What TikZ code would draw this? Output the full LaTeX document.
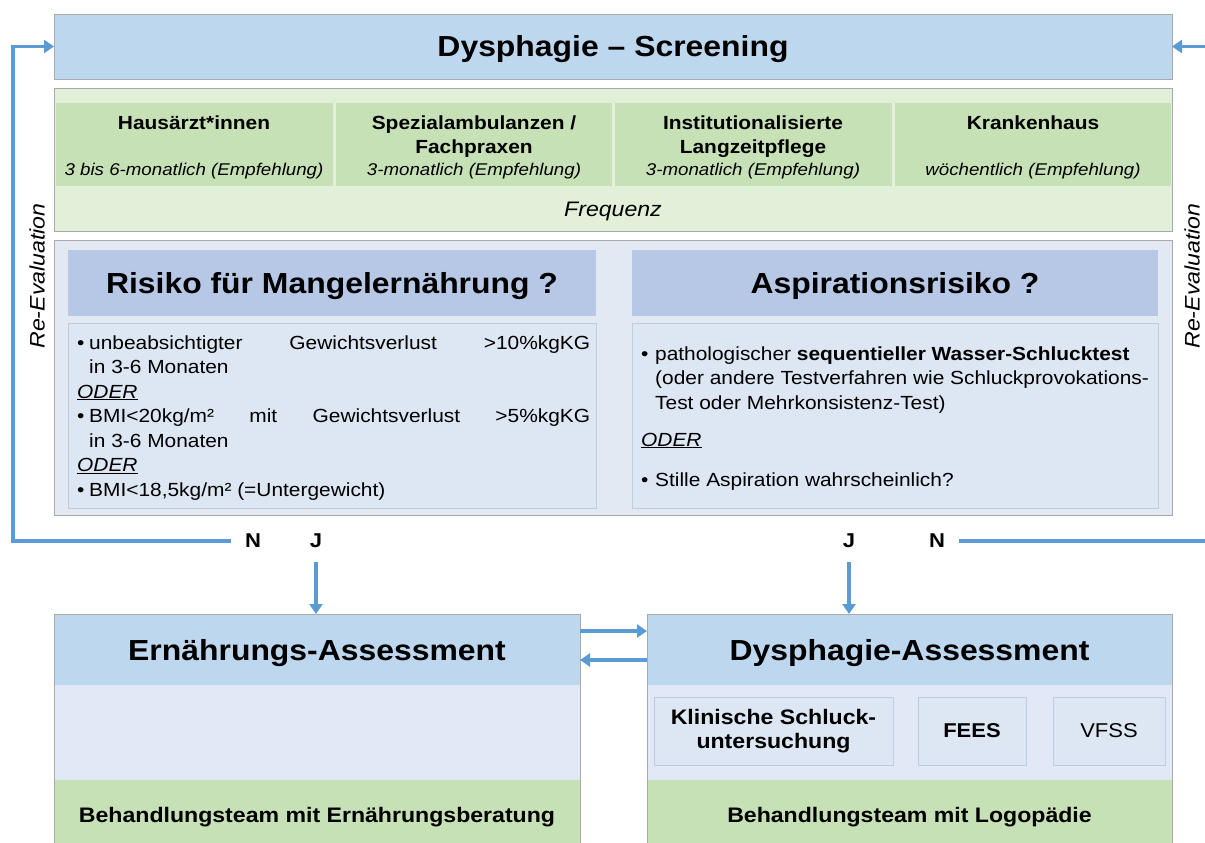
\documentclass[tikz,border=0pt]{standalone}
\usepackage{fontspec}
\setmainfont{Liberation Sans}[FakeStretch=1.1]
\usetikzlibrary{arrows.meta,positioning}

% Farben
\definecolor{blauTitel}{RGB}{189,215,238}
\definecolor{blauKopf}{RGB}{182,200,230}
\definecolor{blauInhalt}{RGB}{221,230,243}
\definecolor{blauMitte}{RGB}{224,233,245}
\definecolor{panelGrau}{RGB}{226,233,242}
\definecolor{gruenHell}{RGB}{226,240,217}
\definecolor{gruenZelle}{RGB}{199,225,182}
\definecolor{rahmenGrau}{RGB}{170,170,170}
\definecolor{rahmenBlau}{RGB}{190,204,224}
\definecolor{pfeilBlau}{RGB}{91,155,213}

% Schriften
\newcommand{\schriftTitel}{\fontsize{29}{34}\selectfont\bfseries}
\newcommand{\schriftKopf}{\fontsize{19}{24}\selectfont\bfseries}
\newcommand{\schriftKursiv}{\fontsize{17}{20}\selectfont\itshape}
\newcommand{\schriftFrequenz}{\fontsize{21}{24}\selectfont\itshape}
\newcommand{\schriftText}{\fontsize{19}{24.5}\selectfont}
\newcommand{\schriftKasten}{\fontsize{20}{24}\selectfont}
\newcommand{\schriftTeam}{\fontsize{21}{24}\selectfont\bfseries}
\newcommand{\schriftEval}{\fontsize{21}{24}\selectfont\itshape}
\newcommand{\schriftAntwort}{\fontsize{20}{24}\selectfont\bfseries}
\newcommand{\punkt}[1]{\hangindent=#1\hangafter=1\noindent\makebox[#1][l]{•}}
\newcommand{\oder}{\underline{\textit{ODER}}}

\tikzset{
  feld/.style={draw=rahmenGrau, line width=0.7pt, inner sep=0pt, outer sep=0pt, anchor=north west},
  titel/.style={font=\schriftTitel, text height=24pt, text depth=3pt},
  kasten/.style={feld, draw=rahmenBlau, fill=blauInhalt},
  antwort/.style={font=\schriftAntwort, inner sep=2pt},
  pfeil/.style={draw=pfeilBlau, line width=3.2pt, -{Triangle[length=10pt,width=13pt]}},
}

\begin{document}
\begin{tikzpicture}[x=1pt,y=-1pt]
  \useasboundingbox (0,0) rectangle (1205,843);

  % Screening oben
  \node[feld, titel, fill=blauTitel, minimum width=1118pt, minimum height=65pt]
    (screening) at (54,14) {Dysphagie – Screening};

  % Frequenz-Zeile
  \node[feld, fill=gruenHell, minimum width=1118pt, minimum height=143pt] (frequenz) at (54,88) {};
  \foreach \i in {0,...,3}
    \node[feld, draw=none, fill=gruenZelle, minimum width=276.5pt, minimum height=83pt]
      (zelle\i) at (56+\i*279.5,103) {};

  \node[font=\schriftKopf, align=center, anchor=north, inner sep=0pt] (hausarzt) at (194,116) {Hausärzt*innen};
  \node[font=\schriftKopf, align=center, anchor=north, inner sep=0pt] (spezial) at (474,116) {Spezialambulanzen /\\Fachpraxen};
  \node[font=\schriftKopf, align=center, anchor=north, inner sep=0pt] (pflege) at (753,116) {Institutionalisierte\\Langzeitpflege};
  \node[font=\schriftKopf, align=center, anchor=north, inner sep=0pt] (krankenhaus) at (1033,116) {Krankenhaus};

  \node[font=\schriftKursiv] (freqA) at (194,171) {3 bis 6-monatlich (Empfehlung)};
  \node[font=\schriftKursiv] (freqB) at (474,171) {3-monatlich (Empfehlung)};
  \node[font=\schriftKursiv] (freqC) at (753,171) {3-monatlich (Empfehlung)};
  \node[font=\schriftKursiv] (freqD) at (1033,171) {wöchentlich (Empfehlung)};
  \node[font=\schriftFrequenz] (freqText) at (613,211) {Frequenz};

  % Risiko-Fragen
  \node[feld, fill=panelGrau, minimum width=1118pt, minimum height=275pt] (risiko) at (54,240) {};

  \node[feld, titel, draw=none, fill=blauKopf, minimum width=528pt, minimum height=66pt]
    (malKopf) at (68,250) {Risiko für Mangelernährung ?};
  \node[kasten, minimum width=528pt, minimum height=185pt] (malInhalt) at (68,323) {};
  \node[anchor=base west, inner sep=0pt, font=\schriftText] (malText) at (77,349) {%
    \parbox[t]{513pt}{%
      \punkt{12pt}unbeabsichtigter Gewichtsverlust >10\%kgKG\linebreak in 3-6 Monaten\par
      \noindent\oder\par
      \punkt{12pt}BMI<20kg/m² mit Gewichtsverlust >5\%kgKG\linebreak in 3-6 Monaten\par
      \noindent\oder\par
      \punkt{12pt}BMI<18,5kg/m² (=Untergewicht)}};

  \node[feld, titel, draw=none, fill=blauKopf, minimum width=526pt, minimum height=66pt]
    (aspKopf) at (632,250) {Aspirationsrisiko ?};
  \node[kasten, minimum width=526pt, minimum height=185pt] (aspInhalt) at (632,323) {};
  \node[anchor=base west, inner sep=0pt, font=\schriftText] (aspText) at (641,360) {%
    \parbox[t]{520pt}{%
      \punkt{14pt}pathologischer \textbf{sequentieller Wasser-Schlucktest}\newline
      (oder andere Testverfahren wie Schluckprovokations-\newline
      Test oder Mehrkonsistenz-Test)}};
  \node[anchor=base west, inner sep=0pt, font=\schriftText] (aspOder) at (641,446) {\oder};
  \node[anchor=base west, inner sep=0pt, font=\schriftText] (aspStill) at (641,486) {\makebox[14pt][l]{•}Stille Aspiration wahrscheinlich?};

  % Antworten
  \node[antwort] (nLinks) at (253,541) {N};
  \node[antwort] (jLinks) at (316,541) {J};
  \node[antwort] (jRechts) at (849,541) {J};
  \node[antwort] (nRechts) at (937,541) {N};

  % Ernaehrungs-Assessment
  \node[feld, titel, draw=none, fill=blauTitel, minimum width=526pt, minimum height=71pt]
    (ernKopf) at (54,614) {Ernährungs-Assessment};
  \node[feld, draw=none, fill=blauMitte, minimum width=526pt, minimum height=95pt] (ernMitte) at (54,685) {};
  \node[feld, draw=none, fill=gruenZelle, minimum width=526pt, minimum height=75pt, font=\schriftTeam]
    (ernTeam) at (54,780) {Behandlungsteam mit Ernährungsberatung};
  \draw[rahmenGrau, line width=0.7pt] (ernTeam.south west) |- (ernKopf.north east) -- (ernTeam.south east);

  % Dysphagie-Assessment
  \node[feld, titel, draw=none, fill=blauTitel, minimum width=525pt, minimum height=71pt]
    (dysKopf) at (647,614) {Dysphagie-Assessment};
  \node[feld, draw=none, fill=blauMitte, minimum width=525pt, minimum height=95pt] (dysMitte) at (647,685) {};
  \node[feld, draw=none, fill=gruenZelle, minimum width=525pt, minimum height=75pt, font=\schriftTeam]
    (dysTeam) at (647,780) {Behandlungsteam mit Logopädie};
  \draw[rahmenGrau, line width=0.7pt] (dysTeam.south west) |- (dysKopf.north east) -- (dysTeam.south east);

  \node[kasten, minimum width=239pt, minimum height=68pt, align=center, font=\fontsize{21}{24}\selectfont\bfseries]
    (klinisch) at (654,697) {Klinische Schluck-\\untersuchung};
  \node[kasten, minimum width=108pt, minimum height=68pt, font=\schriftKasten\bfseries] (fees) at (918,697) {FEES};
  \node[kasten, minimum width=112pt, minimum height=68pt, font=\schriftKasten] (vfss) at (1053,697) {VFSS};

  % Re-Evaluation
  \node[rotate=90, font=\schriftEval] (evalLinks) at (37,276) {Re-Evaluation};
  \node[rotate=90, font=\schriftEval] (evalRechts) at (1192,276) {Re-Evaluation};

  % Pfeile
  \coordinate (eckeLinks) at (13,541);
  \coordinate (eckeRechts) at (1210,541);
  \draw[pfeil] ([xshift=-12pt]nLinks.west) -- (eckeLinks) |- (screening.west);
  \draw[pfeil] ([xshift=12pt]nRechts.east) -- (eckeRechts) |- (screening.east);
  \draw[pfeil] ([yshift=-12pt]jLinks.south) -- (ernKopf.north -| jLinks);
  \draw[pfeil] ([yshift=-12pt]jRechts.south) -- (dysKopf.north -| jRechts);
  \draw[pfeil] (ernKopf.east |- 0,631) -- (dysKopf.west |- 0,631);
  \draw[pfeil] (dysKopf.west |- 0,660) -- (ernKopf.east |- 0,660);
\end{tikzpicture}
\end{document}
